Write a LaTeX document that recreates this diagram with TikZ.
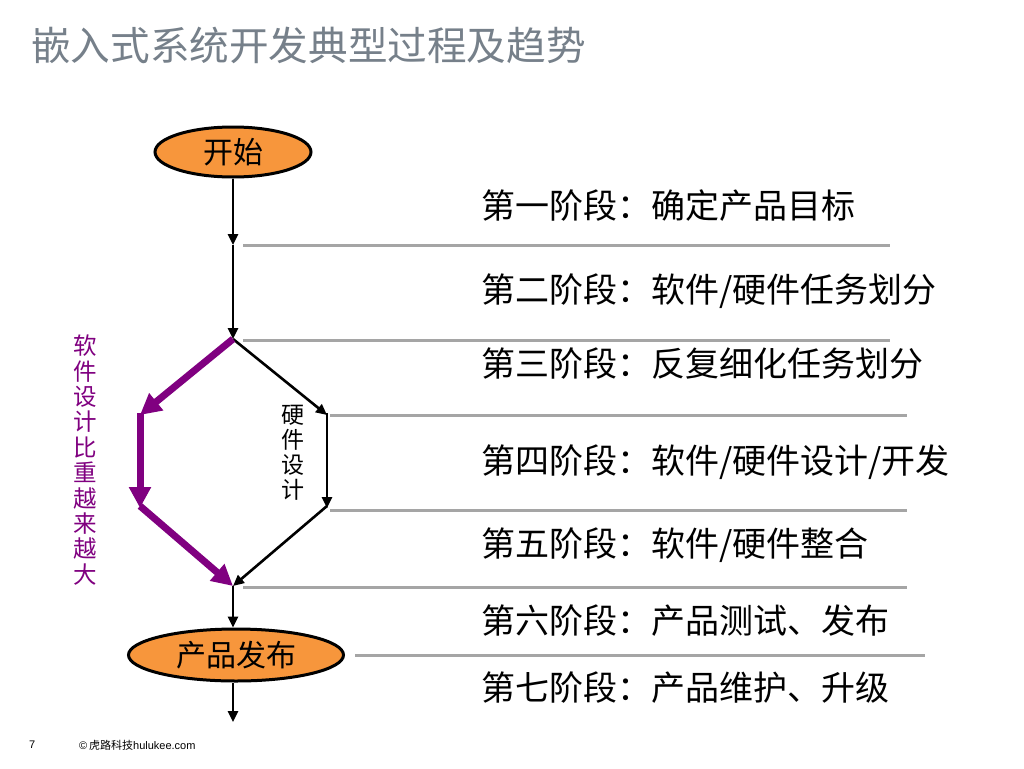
\documentclass[tikz,border=0pt]{standalone}
\usepackage{fontspec}
\usetikzlibrary{arrows.meta,shapes.geometric}
\newfontfamily\cjk{Noto Sans CJK SC}
\newfontfamily\lat{Liberation Sans}
\definecolor{titlegray}{RGB}{118,128,138}
\definecolor{oran}{RGB}{247,150,60}
\definecolor{purp}{RGB}{128,0,128}
\definecolor{sepgray}{RGB}{165,165,165}
\tikzset{
  term/.style={ellipse,draw=black,line width=3pt,fill=oran,inner sep=0pt,font=\cjk\fontsize{30}{34}\selectfont},
  flow/.style={line width=2.6pt,-{Triangle[length=11pt,width=10pt]}},
  purpflow/.style={line width=7pt,purp,-{Triangle[length=21pt,width=21pt]}},
  sep/.style={line width=3pt,sepgray},
  stage/.style={anchor=west,inner sep=0pt,font=\cjk\fontsize{34}{38}\selectfont},
}
\begin{document}
\begin{tikzpicture}[x=1pt,y=-1pt]
\useasboundingbox[fill=white] (0,0) rectangle (1024,768);
% title
\node[anchor=west,inner sep=0pt,text=titlegray,font=\cjk\fontsize{39.6}{44}\selectfont] (title) at (31,45) {嵌入式系统开发典型过程及趋势};
% terminals
\node[term,minimum width=156pt,minimum height=50pt] (start) at (233,152) {开始};
\node[term,minimum width=215pt,minimum height=52pt] (rel) at (236,655) {产品发布};
% main points
\coordinate (p1) at (233,245);
\coordinate (split) at (233,339);
\coordinate (sl) at (140,415);
\coordinate (sl2) at (140,508);
\coordinate (hr) at (327,415);
\coordinate (hr2) at (327,508);
\coordinate (join) at (233,586);
\coordinate (end) at (233,722);
% black flow
\draw[flow] (start) -- (p1);
\draw[flow] (p1) -- (split);
\draw[flow] (split) -- (hr);
\draw[flow] ([yshift=2pt]hr) -- (hr2);
\draw[flow] ([yshift=2pt]hr2) -- (join);
\draw[flow] (join) -- (join |- rel.north);
\draw[flow] (rel.south -| end) -- (end);
% purple flow
\draw[purpflow] (split) -- (sl);
\draw[purpflow] ([yshift=2pt]sl) -- (sl2);
\draw[purpflow] ([yshift=2pt]sl2) -- (join);
% separators
\coordinate (a1) at (243,245); \coordinate (b1) at (890,245);
\coordinate (a2) at (243,340); \coordinate (b2) at (890,340);
\coordinate (a3) at (330,415); \coordinate (b3) at (907,415);
\coordinate (a4) at (330,510); \coordinate (b4) at (907,510);
\coordinate (a5) at (243,587); \coordinate (b5) at (907,587);
\coordinate (a6) at (355,655); \coordinate (b6) at (925,655);
\draw[sep] (a1) -- (b1);
\draw[sep] (a2) -- (b2);
\draw[sep] (a3) -- (b3);
\draw[sep] (a4) -- (b4);
\draw[sep] (a5) -- (b5);
\draw[sep] (a6) -- (b6);
% side labels
\node[align=center,inner sep=0pt,font=\cjk\fontsize{23}{25}\selectfont] (hw) at (293,453) {硬\\件\\设\\计};
\node[align=center,inner sep=0pt,text=purp,font=\cjk\fontsize{23.5}{25.4}\selectfont] (sw) at (85,460) {软\\件\\设\\计\\比\\重\\越\\来\\越\\大};
% stages
\node[stage] (st1) at (481,206) {第一阶段：确定产品目标};
\node[stage] (st2) at (481,291) {第二阶段：软件/硬件任务划分};
\node[stage] (st3) at (481,364) {第三阶段：反复细化任务划分};
\node[stage] (st4) at (481,462) {第四阶段：软件/硬件设计/开发};
\node[stage] (st5) at (481,545) {第五阶段：软件/硬件整合};
\node[stage] (st6) at (481,621) {第六阶段：产品测试、发布};
\node[stage] (st7) at (481,688) {第七阶段：产品维护、升级};
% footer
\node[anchor=west,inner sep=0pt,font=\lat\fontsize{11}{13}\selectfont] (pg) at (29,745) {7};
\node[anchor=west,inner sep=0pt,font=\fontsize{11}{13}\selectfont] (cp) at (79,745) {\lat ©\,{\cjk 虎路科技}hulukee.com};
\end{tikzpicture}
\end{document}
